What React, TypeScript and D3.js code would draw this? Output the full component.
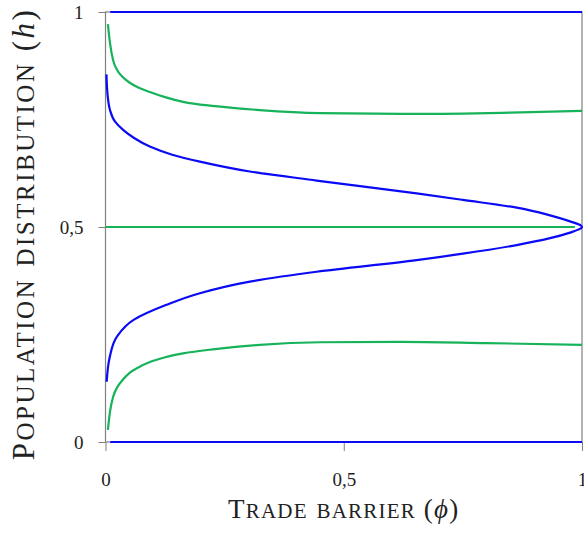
import React from "react";
import * as d3 from "d3";

// phi (trade barrier) vs h (population distribution)
const blueUpper: [number, number][] = [
  [0.002, 0.855], [0.005, 0.8], [0.0094, 0.772], [0.02, 0.745], [0.037, 0.726],
  [0.06, 0.707], [0.093, 0.687], [0.14, 0.668], [0.198, 0.652], [0.303, 0.629],
  [0.443, 0.608], [0.653, 0.578], [0.75, 0.563], [0.863, 0.545], [0.933, 0.527],
  [0.975, 0.513], [0.998, 0.503], [1.0, 0.5],
];
const blueLower: [number, number][] = [
  [0.998, 0.497], [0.975, 0.487], [0.933, 0.474], [0.863, 0.458], [0.75, 0.438],
  [0.653, 0.423], [0.443, 0.396], [0.303, 0.373], [0.198, 0.346], [0.128, 0.319],
  [0.059, 0.284], [0.024, 0.245], [0.009, 0.198], [0.0025, 0.14],
];
const greenUpper: [number, number][] = [
  [0.005, 0.972], [0.0094, 0.928], [0.016, 0.888], [0.025, 0.864], [0.035, 0.85],
  [0.05, 0.836], [0.07, 0.824], [0.093, 0.814], [0.125, 0.802], [0.163, 0.791],
  [0.23, 0.781], [0.324, 0.772], [0.45, 0.765], [0.653, 0.763], [0.85, 0.766],
  [1.0, 0.77],
];
const greenLower: [number, number][] = [
  [0.005, 0.028], [0.0094, 0.07], [0.016, 0.105], [0.025, 0.128], [0.035, 0.143],
  [0.05, 0.16], [0.07, 0.174], [0.093, 0.186], [0.125, 0.197], [0.163, 0.206],
  [0.23, 0.216], [0.324, 0.226], [0.45, 0.232], [0.618, 0.233], [0.8, 0.23],
  [1.0, 0.226],
];
const greenMiddle: [number, number][] = [[0, 0.5], [0.985, 0.5]];
const blueTop: [number, number][] = [[0.01, 1], [1, 1]];
const blueBottom: [number, number][] = [[0.01, 0], [1, 0]];

const tickValues = [0, 0.5, 1];
const tickLabels = ["0", "0,5", "1"];

const blue = "#0a0af5";
const green = "#16b35a";
const grey = "#808080";
const ink = "#222";
const serif = "Liberation Serif";

const App = () => {
  const width = 584,
    height = 533;
  const margin = { top: 12, right: 2, bottom: 91, left: 105.5 };

  const x = d3.scaleLinear().domain([0, 1]).range([margin.left, width - margin.right]);
  const y = d3.scaleLinear().domain([0, 1]).range([height - margin.bottom, margin.top]);

  const fmt = (d: d3.NumberValue) => tickLabels[tickValues.indexOf(+d)];

  const getXAxis = (ref: SVGGElement | null) => {
    if (!ref) return;
    const xAxis = d3.axisBottom(x).tickValues(tickValues).tickSize(9).tickSizeOuter(0).tickPadding(22).tickFormat(fmt);
    const g = d3.select(ref).call(xAxis);
    g.select(".domain").remove();
    g.selectAll("line").attr("stroke", grey);
    g.selectAll("text").attr("font-size", 19).attr("font-family", serif).attr("fill", ink);
  };

  const getYAxis = (ref: SVGGElement | null) => {
    if (!ref) return;
    const yAxis = d3.axisLeft(y).tickValues(tickValues).tickSize(7).tickSizeOuter(0).tickPadding(15).tickFormat(fmt);
    const g = d3.select(ref).call(yAxis);
    g.select(".domain").remove();
    g.selectAll("line").attr("stroke", grey);
    g.selectAll("text").attr("font-size", 19).attr("font-family", serif).attr("fill", ink);
  };

  // green branches are functions of phi, the blue fork is a function of h
  const lineX = d3
    .line<[number, number]>()
    .x((d) => x(d[0]))
    .y((d) => y(d[1]))
    .curve(d3.curveMonotoneX);

  const lineY = d3
    .line<[number, number]>()
    .x((d) => x(d[0]))
    .y((d) => y(d[1]))
    .curve(d3.curveMonotoneY);

  const flat = d3
    .line<[number, number]>()
    .x((d) => x(d[0]))
    .y((d) => y(d[1]));

  const sw = 2.2;

  return (
    <svg
      width={width}
      height={height}
      style={{ position: "absolute", left: 0, top: 0, background: "#fff" }}
    >
      <rect
        x={x(0)}
        y={y(1)}
        width={x(1) - x(0)}
        height={y(0) - y(1)}
        fill="none"
        stroke={grey}
        strokeWidth={1.2}
      />
      <g ref={getYAxis} transform={`translate(${x(0)},0)`} />
      <g ref={getXAxis} transform={`translate(0,${y(0)})`} />

      <path d={flat(greenMiddle) ?? ""} fill="none" stroke={green} strokeWidth={sw} />
      <path d={lineX(greenUpper) ?? ""} fill="none" stroke={green} strokeWidth={sw} />
      <path d={lineX(greenLower) ?? ""} fill="none" stroke={green} strokeWidth={sw} />
      <path d={lineY([...blueUpper, ...blueLower]) ?? ""} fill="none" stroke={blue} strokeWidth={sw} />
      <path d={flat(blueTop) ?? ""} fill="none" stroke={blue} strokeWidth={sw} />
      <path d={flat(blueBottom) ?? ""} fill="none" stroke={blue} strokeWidth={sw} />

      <text
        x={(x(0) + x(1)) / 2}
        y={518}
        textAnchor="middle"
        fontFamily={serif}
        fontSize={27}
        fill={ink}
        letterSpacing={1.2}
      >
        T
        <tspan fontSize={30} style={{ fontVariant: "small-caps" }}>rade barrier</tspan>
        {" ("}
        <tspan fontStyle="italic">ϕ</tspan>)
      </text>
      <text
        transform={`translate(34,${234}) rotate(-90)`}
        textAnchor="middle"
        fontFamily={serif}
        fontSize={31}
        fill={ink}
        letterSpacing={2.5}
      >
        P
        <tspan fontSize={35} style={{ fontVariant: "small-caps" }}>opulation distribution</tspan>
        {" ("}
        <tspan fontStyle="italic">h</tspan>)
      </text>
    </svg>
  );
};

export default App;
